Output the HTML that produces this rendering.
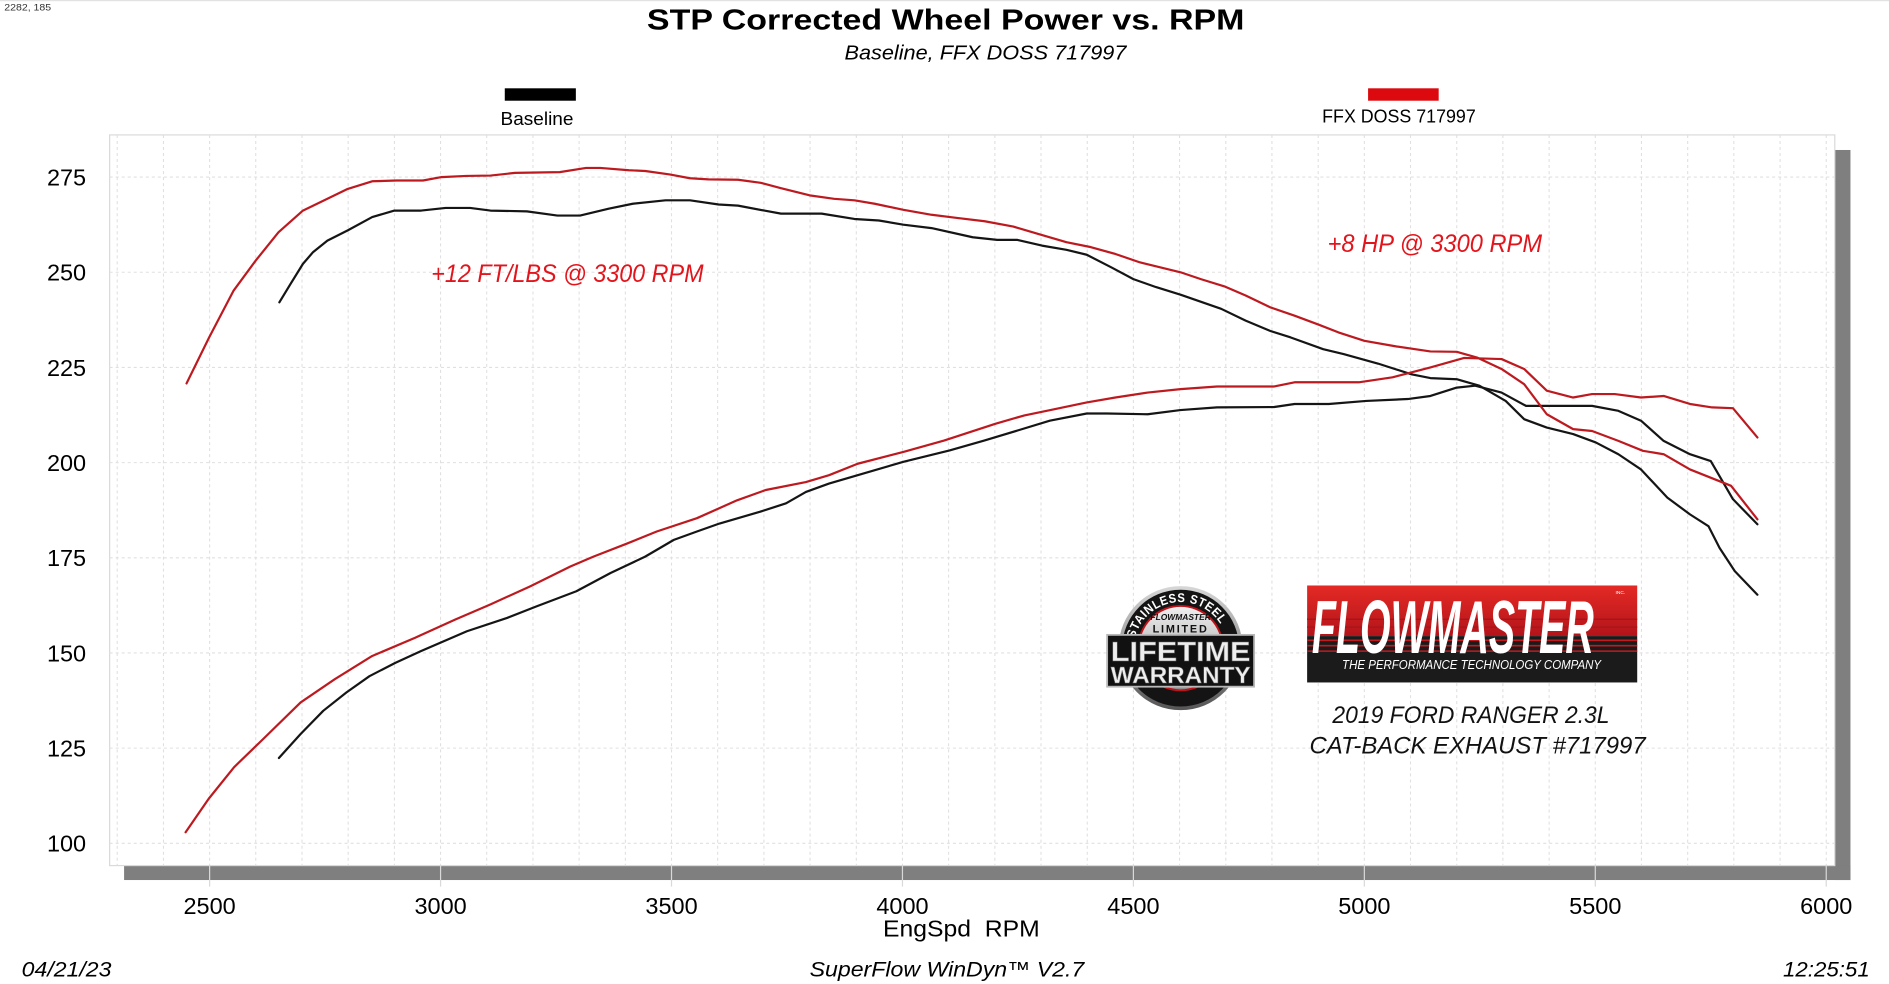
<!DOCTYPE html>
<html><head><meta charset="utf-8"><style>
html,body{margin:0;padding:0;background:#fff;width:1889px;height:984px;overflow:hidden}
svg{display:block}
text{font-family:"Liberation Sans",Arial,sans-serif}
</style></head><body>
<svg width="1889" height="984" viewBox="0 0 1568 816.8" preserveAspectRatio="none">
<defs>
<linearGradient id="redg" x1="0" y1="0" x2="0" y2="1"><stop offset="0" stop-color="#e42a25"/><stop offset="1" stop-color="#b3141a"/></linearGradient>
<linearGradient id="silv" x1="0" y1="0" x2="0" y2="1"><stop offset="0" stop-color="#f0f0f0"/><stop offset="1" stop-color="#8c8c8c"/></linearGradient>
<linearGradient id="rim" x1="0" y1="0" x2="0" y2="1"><stop offset="0" stop-color="#d8d8d8"/><stop offset="1" stop-color="#555"/></linearGradient>
<path id="arc" d="M 942 530 A 39 39 0 0 1 1018 530" fill="none"/>
</defs>
<rect x="0" y="0" width="1568" height="817" fill="#fff"/>
<rect x="0" y="0" width="1568" height="1" fill="#e2e2e2"/>
<text x="3.5" y="8.6" font-size="8" textLength="39" lengthAdjust="spacingAndGlyphs" fill="#333">2282, 185</text>

<text x="537" y="24.3" font-size="24" font-weight="bold" textLength="496" lengthAdjust="spacingAndGlyphs" fill="#000">STP Corrected Wheel Power vs. RPM</text>
<text x="701" y="49.5" font-size="17" font-style="italic" textLength="234" lengthAdjust="spacingAndGlyphs" fill="#000">Baseline, FFX DOSS 717997</text>

<rect x="419" y="73.3" width="59" height="10.3" fill="#000"/>
<text x="415.5" y="103.8" font-size="15.5" textLength="60.5" lengthAdjust="spacingAndGlyphs" fill="#000">Baseline</text>
<rect x="1135.6" y="73.3" width="58.6" height="10.3" fill="#dc0a0e"/>
<text x="1097.5" y="101.8" font-size="15.5" textLength="127.5" lengthAdjust="spacingAndGlyphs" fill="#000">FFX DOSS 717997</text>

<!-- shadow -->
<rect x="1523" y="124.5" width="13" height="606" fill="#7f7f7f"/>
<rect x="103" y="718.5" width="1433" height="12" fill="#7f7f7f"/>
<!-- plot -->
<rect x="91" y="112" width="1432" height="606.5" fill="#fff" stroke="#dadada" stroke-width="1"/>

<g stroke="#e0e0e0" stroke-width="0.9" stroke-dasharray="2.5 2.5" fill="none">
<path d="M97.3 112V718M135.7 112V718M174 112V718M212.3 112V718M250.7 112V718M289 112V718M327.4 112V718M365.7 112V718M404 112V718M442.4 112V718M480.7 112V718M519.1 112V718M557.4 112V718M595.7 112V718M634.1 112V718M672.4 112V718M710.8 112V718M749.1 112V718M787.4 112V718M825.8 112V718M864.1 112V718M902.5 112V718M940.8 112V718M979.1 112V718M1017.5 112V718M1055.8 112V718M1094.2 112V718M1132.5 112V718M1170.8 112V718M1209.2 112V718M1247.5 112V718M1285.9 112V718M1324.2 112V718M1362.5 112V718M1400.9 112V718M1439.2 112V718M1477.6 112V718M1515.9 112V718"/>
<path d="M91 147H1523M91 226H1523M91 305H1523M91 384H1523M91 463H1523M91 542H1523M91 621H1523M91 700H1523"/>
</g>
<g stroke="#d9d9d9" stroke-width="1">
<path d="M174 718V736M365.7 718V736M557.4 718V736M749.1 718V736M940.8 718V736M1132.5 718V736M1324.2 718V736M1515.9 718V736"/>
</g>

<!-- y labels -->
<g font-size="19.5" fill="#000" text-anchor="end">
<text x="71.5" y="154">275</text>
<text x="71.5" y="233">250</text>
<text x="71.5" y="312">225</text>
<text x="71.5" y="391">200</text>
<text x="71.5" y="470">175</text>
<text x="71.5" y="549">150</text>
<text x="71.5" y="628">125</text>
<text x="71.5" y="707">100</text>
</g>
<!-- x labels -->
<g font-size="19.5" fill="#000" text-anchor="middle">
<text x="174" y="758.5">2500</text>
<text x="365.7" y="758.5">3000</text>
<text x="557.4" y="758.5">3500</text>
<text x="749.1" y="758.5">4000</text>
<text x="940.8" y="758.5">4500</text>
<text x="1132.5" y="758.5">5000</text>
<text x="1324.2" y="758.5">5500</text>
<text x="1515.9" y="758.5">6000</text>
</g>
<text x="733" y="777.5" font-size="19" textLength="130" lengthAdjust="spacingAndGlyphs" fill="#000">EngSpd&#160;&#160;RPM</text>

<g font-size="17.5" font-style="italic" fill="#000">
<text x="18" y="810.7" textLength="74.5" lengthAdjust="spacingAndGlyphs">04/21/23</text>
<text x="672" y="810.7" textLength="228" lengthAdjust="spacingAndGlyphs">SuperFlow WinDyn™ V2.7</text>
<text x="1480" y="810.7" textLength="72" lengthAdjust="spacingAndGlyphs">12:25:51</text>
</g>

<!-- annotations -->
<text x="358" y="234" font-size="21" font-style="italic" fill="#e3151c" textLength="226" lengthAdjust="spacingAndGlyphs">+12 FT/LBS @ 3300 RPM</text>
<text x="1102" y="209" font-size="21" font-style="italic" fill="#e3151c" textLength="178" lengthAdjust="spacingAndGlyphs">+8 HP @ 3300 RPM</text>

<!-- Flowmaster logo -->
<rect x="1085" y="486" width="274" height="42" fill="url(#redg)"/>
<rect x="1085" y="528" width="274" height="38.5" fill="#1b1b1b"/>
<g stroke="#a8141a" stroke-width="1.2">
<path d="M1085 514H1359M1085 520.5H1359"/>
</g>
<g stroke="#c41a1f" stroke-width="1.3">
<path d="M1085 531.5H1359M1085 536H1359M1085 540.5H1359"/>
</g>
<text x="1089" y="542" font-size="62" font-weight="bold" font-style="italic" fill="#fff" textLength="234" lengthAdjust="spacingAndGlyphs">FLOWMASTER</text>
<text x="1341" y="493" font-size="4" fill="#fff">INC.</text>
<text x="1114" y="555.5" font-size="11" font-style="italic" fill="#fff" textLength="215" lengthAdjust="spacingAndGlyphs">THE PERFORMANCE TECHNOLOGY COMPANY</text>

<text x="1106" y="600" font-size="20" font-style="italic" fill="#111" textLength="230" lengthAdjust="spacingAndGlyphs">2019 FORD RANGER 2.3L</text>
<text x="1087" y="625.5" font-size="20" font-style="italic" fill="#111" textLength="279" lengthAdjust="spacingAndGlyphs">CAT-BACK EXHAUST #717997</text>

<!-- warranty badge -->
<circle cx="980" cy="538" r="51.5" fill="url(#rim)"/>
<circle cx="980" cy="538" r="48.5" fill="#141414"/>
<circle cx="980" cy="538" r="35" fill="url(#silv)" stroke="#c0121a" stroke-width="1.6"/>
<text font-size="10.5" font-weight="bold" fill="#fff" letter-spacing="0.5"><textPath href="#arc" textLength="92" lengthAdjust="spacingAndGlyphs">STAINLESS STEEL</textPath></text>
<text x="980" y="514.5" font-size="7" font-weight="bold" font-style="italic" fill="#111" text-anchor="middle">FLOWMASTER</text>
<text x="980" y="525" font-size="9" font-weight="bold" fill="#111" text-anchor="middle" letter-spacing="1.5">LIMITED</text>
<rect x="919" y="527" width="122" height="43" fill="#111" stroke="#b8b8b8" stroke-width="1.5"/>
<text x="922" y="548.5" font-size="23" font-weight="bold" fill="#eee" stroke="#666" stroke-width="0.4" textLength="116" lengthAdjust="spacingAndGlyphs">LIFETIME</text>
<text x="922" y="567" font-size="19" font-weight="bold" fill="#eee" stroke="#666" stroke-width="0.4" textLength="116" lengthAdjust="spacingAndGlyphs">WARRANTY</text>

<!-- curves -->
<g transform="matrix(0.3834 0 0 -3.16 -784.5 1016)" fill="none" stroke-width="2.2" stroke-linejoin="round" stroke-linecap="round">
<polyline vector-effect="non-scaling-stroke" stroke="#151515" points="2651,242.1 2675,246.9 2702,252.2 2724,255.3 2755,258.3 2799,261.0 2852,264.5 2900,266.2 2958,266.2 3011,266.9 3064,266.9 3108,266.2 3187,266.0 3253,264.9 3302,264.9 3364,266.7 3416,268.0 3487,268.9 3540,268.9 3602,267.8 3644,267.5 3701,266.2 3737,265.4 3825,265.4 3896,264.0 3949,263.6 4002,262.5 4063,261.6 4152,259.2 4205,258.5 4249,258.5 4302,257.0 4355,255.9 4399,254.6 4452,251.3 4500,248.2 4549,246.1 4602,244.1 4690,240.4 4743,237.3 4796,234.6 4840,232.9 4911,229.8 4955,228.5 5030,226.0 5102,223.2 5143,222.2 5200,221.9 5249,220.2 5306,216.2 5346,211.4 5395,209.2 5452,207.5 5501,205.3 5550,202.2 5599,198.2 5656,190.8 5705,186.4 5745,183.3 5769,177.6 5802,171.5 5851,165.3"/>
<polyline vector-effect="non-scaling-stroke" stroke="#151515" points="2650,122.4 2697,128.7 2746,134.8 2796,139.6 2846,143.9 2902,147.4 2958,150.5 3057,155.7 3144,159.2 3207,162.2 3294,166.2 3368,171.0 3443,175.3 3505,179.7 3555,181.9 3604,184.0 3692,187.1 3748,189.3 3791,192.3 3841,194.5 3903,196.7 4002,200.2 4102,203.2 4177,205.8 4251,208.5 4319,211.0 4399,212.9 4443,212.9 4531,212.7 4602,213.8 4681,214.5 4805,214.6 4849,215.4 4923,215.4 5004,216.2 5094,216.7 5143,217.5 5200,219.7 5240,220.2 5297,218.4 5350,214.9 5395,214.9 5493,214.9 5550,213.6 5599,211.0 5648,205.7 5705,202.2 5750,200.4 5798,190.4 5851,183.8"/>
<polyline vector-effect="non-scaling-stroke" stroke="#bd1a20" points="2450,220.8 2499,232.9 2552,245.2 2600,253.1 2649,260.5 2702,266.2 2755,269.3 2799,271.9 2852,273.9 2905,274.1 2962,274.1 3002,275.0 3055,275.3 3108,275.4 3161,276.1 3258,276.3 3315,277.4 3346,277.4 3408,276.8 3443,276.6 3496,275.7 3540,274.7 3580,274.4 3644,274.3 3693,273.5 3737,272.1 3799,270.2 3852,269.3 3896,268.9 3940,268.0 4002,266.4 4063,265.1 4116,264.3 4178,263.4 4240,262.0 4293,260.1 4355,257.9 4408,256.6 4461,254.8 4514,252.6 4602,250.0 4646,248.2 4699,246.2 4743,243.9 4796,240.8 4849,238.6 4902,236.2 4944,234.2 5000,232.0 5070,230.5 5143,229.2 5200,229.1 5244,227.6 5297,224.6 5346,220.6 5395,212.7 5452,208.8 5493,208.3 5550,205.7 5603,203.1 5648,202.2 5705,198.2 5794,193.9 5851,185.1"/>
<polyline vector-effect="non-scaling-stroke" stroke="#bd1a20" points="2448,102.9 2498,111.7 2553,120.0 2616,127.4 2697,137.0 2771,143.1 2852,149.2 2945,154.0 3032,158.8 3107,162.7 3194,167.5 3281,172.7 3331,175.3 3405,178.8 3468,181.9 3555,185.4 3642,190.1 3704,192.8 3791,194.9 3841,196.7 3903,199.7 4002,202.8 4090,205.8 4201,210.2 4264,212.4 4328,214.0 4399,215.8 4461,217.1 4531,218.4 4602,219.3 4681,220.0 4805,220.0 4849,221.1 4988,221.1 5061,222.4 5143,225.0 5216,227.5 5297,227.2 5346,224.6 5395,218.9 5452,217.1 5493,218.0 5542,218.0 5599,217.1 5648,217.5 5705,215.4 5753,214.5 5798,214.3 5851,206.6"/>
</g>
</svg>
</body></html>
